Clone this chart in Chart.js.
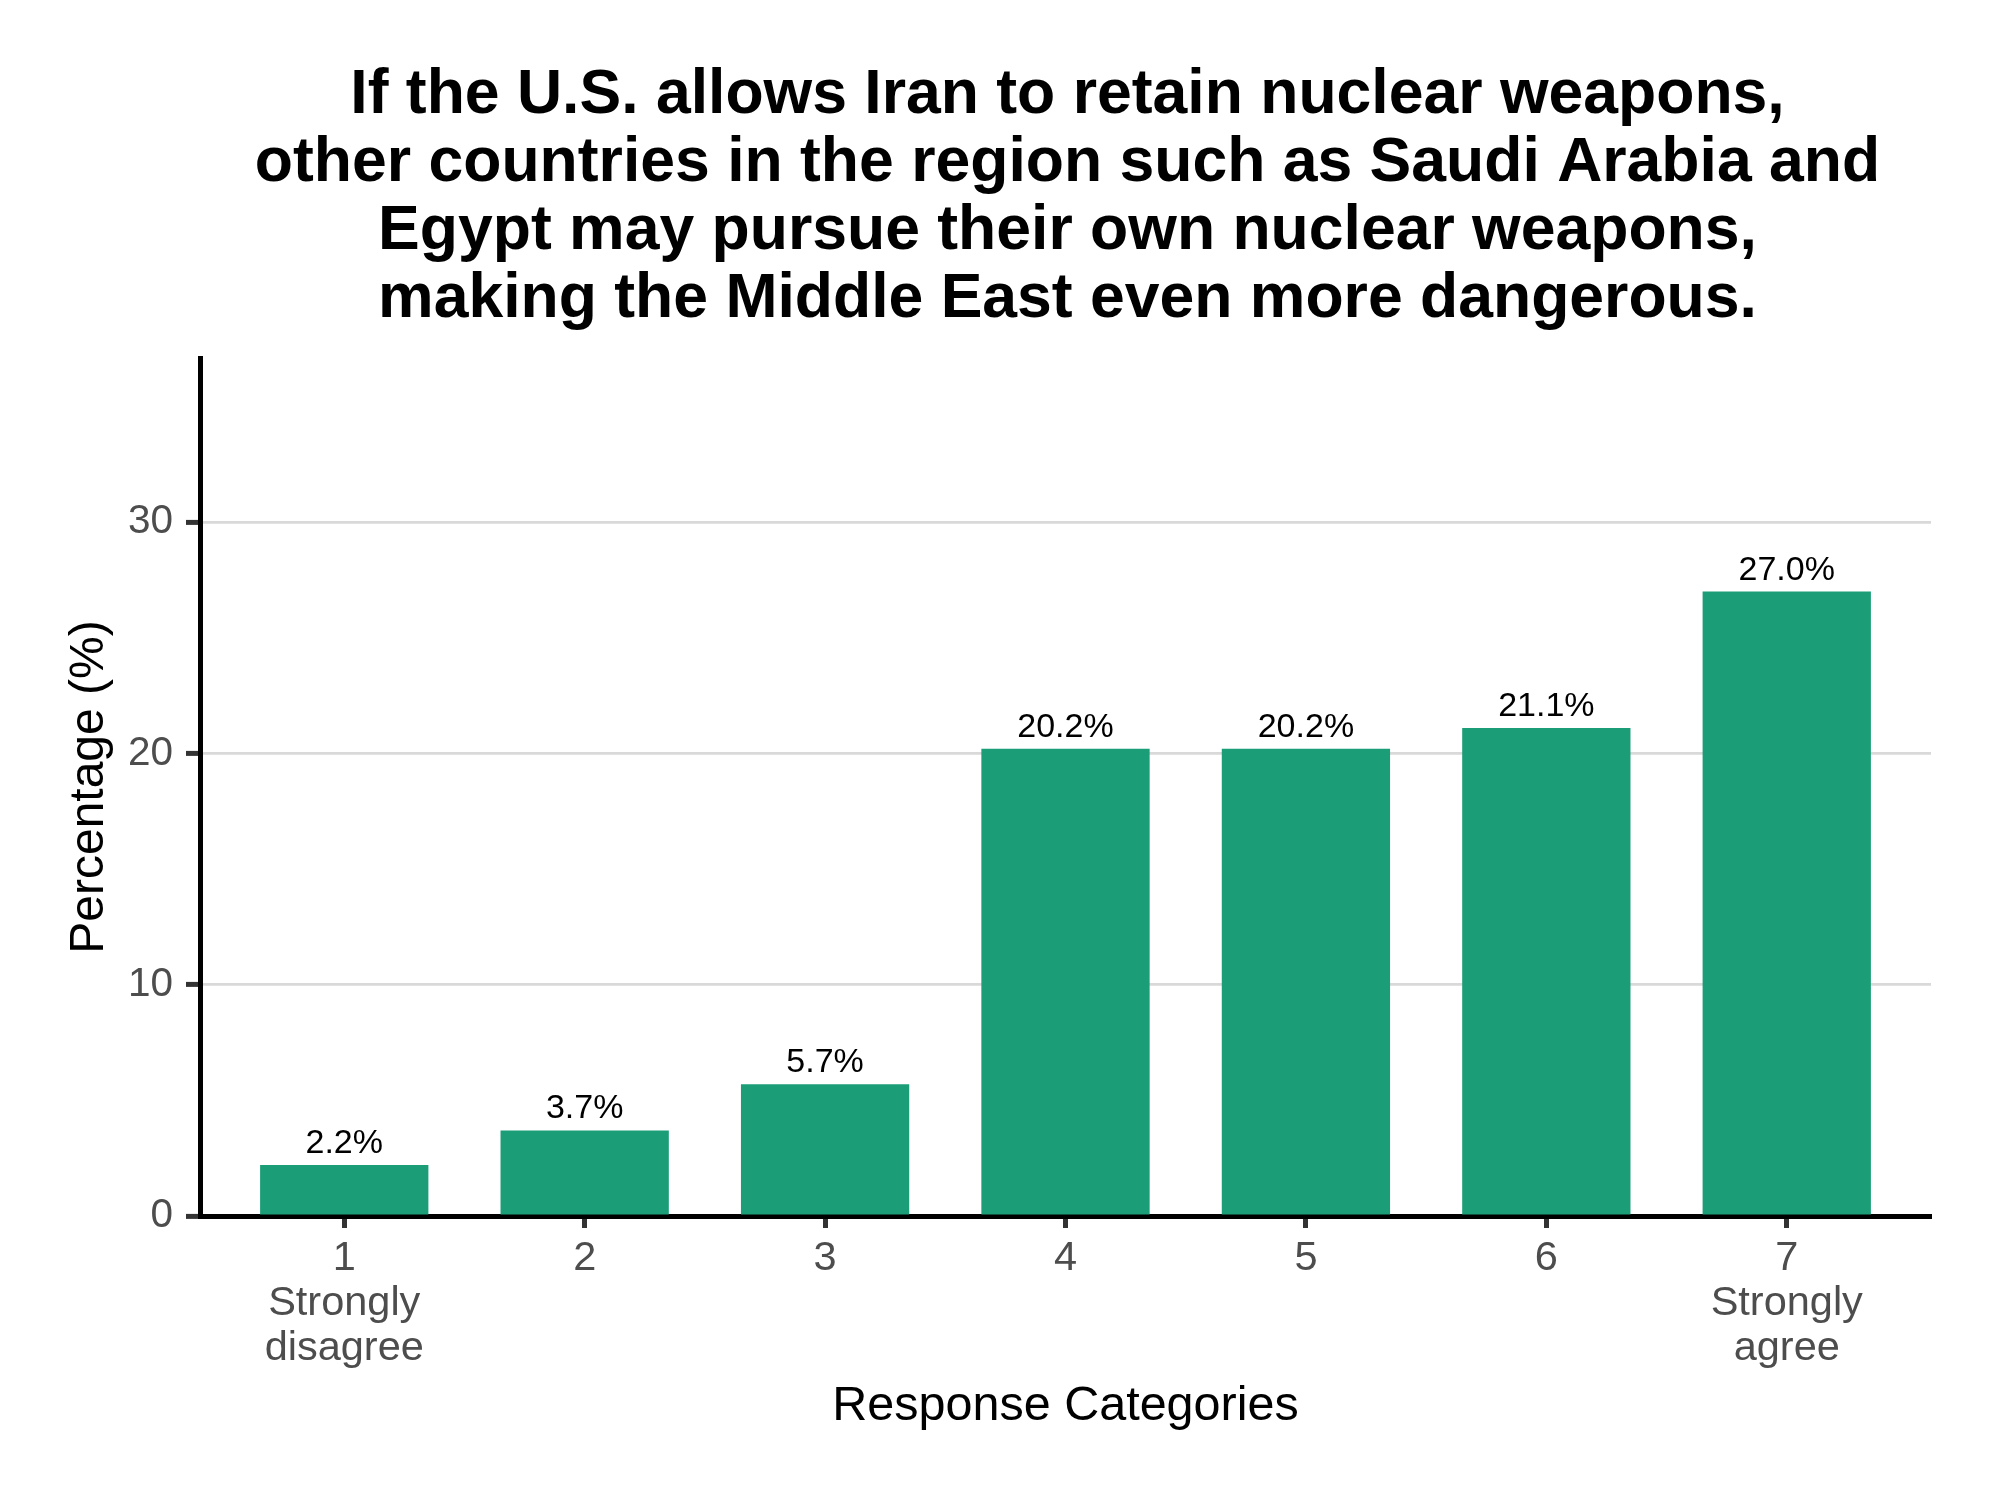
<!DOCTYPE html>
<html>
<head>
<meta charset="utf-8">
<script src="https://cdn.jsdelivr.net/npm/chart.js@4.4.1/dist/chart.umd.min.js"></script>
<style>
  html, body { margin: 0; padding: 0; background: #ffffff; }
  #wrap { width: 2000px; height: 1500px; position: relative; }
  canvas { display: block; }
</style>
</head>
<body>
<div id="wrap"><canvas id="c" width="2000" height="1500"></canvas></div>
<script>
// ---- data ----
const categories = ['1', '2', '3', '4', '5', '6', '7'];
const subLabels = [['Strongly', 'disagree'], [], [], [], [], [], ['Strongly', 'agree']];
const percentages = [2.2, 3.7, 5.7, 20.2, 20.2, 21.1, 27.0];
const yTicks = [0, 10, 20, 30];
const titleLines = [
  'If the U.S. allows Iran to retain nuclear weapons,',
  'other countries in the region such as Saudi Arabia and',
  'Egypt may pursue their own nuclear weapons,',
  'making the Middle East even more dangerous.'
];
const xTitle = 'Response Categories';
const yTitle = 'Percentage (%)';

// ---- styling ----
const FONT = "'Liberation Sans', Arial, Helvetica, sans-serif";
const BAR_COLOR = '#1b9e77';

const points = categories.map((c, i) => ({ x: Number(c), y: percentages[i] }));

const titlePlugin = {
  id: 'multiTitle',
  afterDraw(chart) {
    const ctx = chart.ctx;
    const area = chart.chartArea;
    const cx = (area.left + area.right) / 2 + 2;
    ctx.save();
    ctx.fillStyle = '#000000';
    ctx.font = 'bold 62.5px ' + FONT;
    ctx.textAlign = 'center';
    ctx.textBaseline = 'alphabetic';
    const firstBaseline = 113, step = 68;
    titleLines.forEach((line, i) => ctx.fillText(line, cx, firstBaseline + i * step));
    ctx.restore();
  }
};

const barLabelPlugin = {
  id: 'barLabels',
  afterDatasetsDraw(chart) {
    const ctx = chart.ctx;
    const meta = chart.getDatasetMeta(0);
    ctx.save();
    ctx.fillStyle = '#000000';
    ctx.font = '34px ' + FONT;
    ctx.textAlign = 'center';
    ctx.textBaseline = 'alphabetic';
    meta.data.forEach((el, i) => {
      ctx.fillText(percentages[i].toFixed(1) + '%', el.x, el.y - 12);
    });
    ctx.restore();
  }
};

new Chart(document.getElementById('c'), {
  type: 'bar',
  data: {
    datasets: [{
      data: points,
      backgroundColor: BAR_COLOR,
      borderWidth: 0,
      categoryPercentage: 1.0,
      barPercentage: 0.7
    }]
  },
  options: {
    responsive: false,
    devicePixelRatio: 1,
    animation: false,
    layout: { padding: { top: 358, right: 69, bottom: 0, left: 0 } },
    plugins: {
      legend: { display: false },
      tooltip: { enabled: false },
      title: { display: false }
    },
    scales: {
      x: {
        type: 'linear',
        min: 0.4,
        max: 7.6,
        offset: false,
        afterFit(scale) { scale.height = 284; },
        afterBuildTicks(scale) {
          scale.ticks = categories.map(c => ({ value: Number(c) }));
        },
        ticks: {
          stepSize: 1,
          includeBounds: false,
          autoSkip: false,
          maxRotation: 0,
          padding: 8,
          color: '#4d4d4d',
          font: { family: FONT, size: 41.5, lineHeight: '45px' },
          callback(value) {
            const i = categories.indexOf(String(value));
            return i < 0 ? '' : [categories[i]].concat(subLabels[i]);
          }
        },
        grid: {
          offset: false,
          drawOnChartArea: false,
          drawTicks: true,
          tickLength: 12,
          tickColor: '#333333',
          tickWidth: 5
        },
        border: { display: true, color: '#000000', width: 5 },
        title: {
          display: true,
          text: xTitle,
          color: '#000000',
          font: { family: FONT, size: 48.5 },
          padding: { top: 0, bottom: 64 }
        }
      },
      y: {
        type: 'linear',
        min: 0,
        max: 37.1,
        afterFit(scale) { scale.width = 200; },
        afterBuildTicks(scale) {
          scale.ticks = yTicks.map(v => ({ value: v }));
        },
        ticks: {
          stepSize: 10,
          includeBounds: false,
          padding: 13,
          color: '#4d4d4d',
          font: { family: FONT, size: 40.5 }
        },
        grid: {
          color: '#d9d9d9',
          lineWidth: 2.8,
          drawTicks: true,
          tickLength: 14,
          tickColor: '#333333',
          tickWidth: 5
        },
        border: { display: true, color: '#000000', width: 5 },
        title: {
          display: true,
          text: yTitle,
          color: '#000000',
          font: { family: FONT, size: 48 },
          padding: { top: 61, bottom: 0 }
        }
      }
    }
  },
  plugins: [titlePlugin, barLabelPlugin]
});
</script>
</body>
</html>
